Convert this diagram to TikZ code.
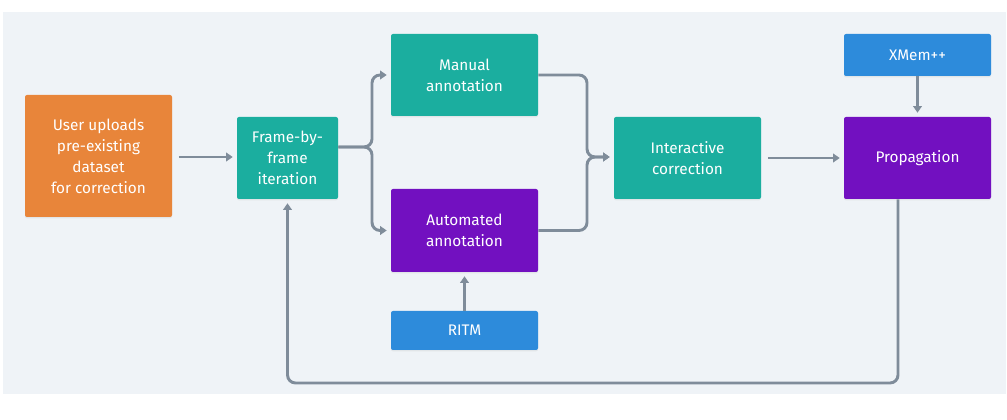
\documentclass[tikz,border=0pt]{standalone}
\usepackage{fontspec}
\setmainfont{Fira Sans}
\usetikzlibrary{arrows.meta,shadows}

\definecolor{bgpanel}{HTML}{EFF3F7}
\definecolor{boxorange}{HTML}{E8853A}
\definecolor{boxteal}{HTML}{1BAE9F}
\definecolor{boxpurple}{HTML}{7210C0}
\definecolor{boxblue}{HTML}{2D8BDB}
\definecolor{linegray}{HTML}{7F8C9A}

\tikzset{
  box/.style={rectangle, rounded corners=1.5pt, inner sep=0pt, text=white, align=center,
    font=\fontsize{11.5}{15.75}\selectfont,
    drop shadow={opacity=0.12, shadow xshift=0pt, shadow yshift=-1pt}},
  conn/.style={draw=linegray, line width=2.2pt, rounded corners=6pt,
    -{Triangle[length=5pt,width=6.5pt]}, shorten >=3pt},
}

\begin{document}
\begin{tikzpicture}[x=0.75pt, y=-0.75pt]
    \useasboundingbox (0,0) rectangle (1007,420);
    \fill[white] (0,0) rectangle (1007,420);
    \fill[bgpanel] (3,12) rectangle (1006,394);

    \node[box, fill=boxorange, minimum width=110.25pt, minimum height=91.5pt] (upload) at (98.5,156) {User uploads\\pre-existing\\dataset\\for correction};
    \node[box, fill=boxteal, minimum width=75.75pt, minimum height=61.5pt] (frame) at (287.5,158) {Frame-by-\\frame\\iteration};
    \node[box, fill=boxteal, minimum width=110.25pt, minimum height=61.5pt] (manual) at (464.5,75) {Manual\\annotation};
    \node[box, fill=boxpurple, minimum width=110.25pt, minimum height=62.25pt] (auto) at (464.5,230.5) {Automated\\annotation};
    \node[box, fill=boxblue, minimum width=110.25pt, minimum height=29.25pt] (ritm) at (464.5,330.5) {RITM};
    \node[box, fill=boxteal, minimum width=110.25pt, minimum height=61.5pt] (inter) at (687.5,158) {Interactive\\correction};
    \node[box, fill=boxblue, minimum width=110.25pt, minimum height=31.5pt] (xmem) at (917.5,55) {XMem++};
    \node[box, fill=boxpurple, minimum width=110.25pt, minimum height=61.5pt] (prop) at (917.5,158) {Propagation};

    \coordinate (split) at (372,147);
    \coordinate (merge) at (587,157);
    \coordinate (back) at (898,383);

    \draw[conn, shorten <=5pt] (upload.east |- merge) -- (frame.west |- merge);
    \draw[conn] (frame.east |- split) -- (split) |- (manual.west);
    \draw[conn] (frame.east |- split) -- (split) |- (auto.west);
    \draw[conn] (manual.east) -| (merge) -- (inter.west |- merge);
    \draw[conn] (auto.east) -| (merge) -- (inter.west |- merge);
    \draw[conn, shorten <=5pt] (inter.east) -- (prop.west);
    \draw[conn] (xmem.south) -- (prop.north);
    \draw[conn] (ritm.north) -- (auto.south);
    \draw[conn] (prop.south -| back) -- (back) -| (frame.south);
\end{tikzpicture}
\end{document}
